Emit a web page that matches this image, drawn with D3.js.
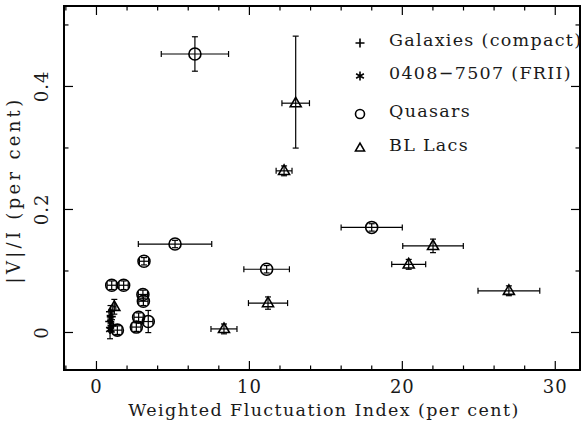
<!DOCTYPE html>
<html><head><meta charset="utf-8">
<script src="https://cdn.jsdelivr.net/npm/d3@7"></script>
<style>body{margin:0;background:#fff}svg{display:block}text{font-family:"DejaVu Serif",serif;fill:#1a1a1a}</style>
</head><body>
<script>
// Quasars
const qX    = [6.47, 5.17, 11.16, 18.03, 3.14, 1.03, 1.81, 3.07, 3.10, 2.79, 2.64, 3.42, 1.40];
const qY    = [0.452, 0.143, 0.102, 0.170, 0.115, 0.076, 0.076, 0.061, 0.050, 0.024, 0.008, 0.017, 0.003];
const qXerr = [2.2, 2.4, 1.49, 2.0, 0.3, 0.3, 0.3, 0.3, 0.3, 0.3, 0.3, 0.3, 0.3];
const qYlo  = [0.028, 0.006, 0.006, 0.006, 0.006, 0.007, 0.007, 0.007, 0.007, 0.007, 0.007, 0.018, 0.007];
const qYhi  = [0.028, 0.006, 0.006, 0.006, 0.006, 0.007, 0.007, 0.007, 0.007, 0.007, 0.007, 0.018, 0.007];
// BL Lacs
const bX    = [13.06, 12.30, 22.04, 20.45, 27.0, 11.25, 8.37, 1.20];
const bY    = [0.372, 0.262, 0.140, 0.110, 0.067, 0.047, 0.005, 0.041];
const bXerr = [0.9, 0.52, 1.98, 1.11, 2.02, 1.28, 0.85, 0.1];
const bYlo  = [0.073, 0.008, 0.011, 0.008, 0.008, 0.010, 0.008, 0.012];
const bYhi  = [0.109, 0.008, 0.011, 0.008, 0.008, 0.010, 0.008, 0.012];
// Galaxies (compact)
const gX    = [0.95, 1.0, 0.9, 1.05];
const gY    = [0.033, 0.025, 0.017, 0.010];
const gXerr = [0.1, 0.1, 0.1, 0.1];
const gYerr = [0.010, 0.010, 0.010, 0.010];
// 0408-7507 (FRII)
const fX = [0.92], fY = [0.004], fXerr = [0.1], fYerr = [0.015];

const legendLabels = ["Galaxies (compact)", "0408\u22127507 (FRII)", "Quasars", "BL Lacs"];
const xMajor = [0, 10, 20, 30];
const xMinor = [2, 4, 6, 8, 12, 14, 16, 18, 22, 24, 26, 28, -2, 32];
const yMajor = [0, 0.2, 0.4];
const yMinor = [0.1, 0.3, 0.5];

const W = 581, H = 426;
const L = 64, R = 580, T = 6, B = 370;
const svg = d3.select("body").append("svg").attr("width", W).attr("height", H);
const x = d3.scaleLinear().domain([-2.09, 31.65]).range([L, R]);
const y = d3.scaleLinear().domain([-0.0618, 0.530]).range([B, T]);

// axes ticks (inward, all four sides)
function axis(gen, tx, ty, vals, size, labels) {
  const g = svg.append("g").attr("transform", `translate(${tx},${ty})`)
    .call(gen.tickValues(vals).tickSize(size).tickSizeOuter(0).tickFormat(labels ? d3.format("") : ""));
  g.select(".domain").remove();
  g.selectAll("line").attr("stroke", "#000").attr("stroke-width", 1.2);
  return g;
}
const bx = axis(d3.axisBottom(x), 0, B, xMajor, -9, true);
bx.selectAll("text").attr("font-size", 18).attr("y", 10).attr("letter-spacing", 1).attr("fill", "#1a1a1a");
axis(d3.axisBottom(x), 0, B, xMinor.filter(v => x(v) > L && x(v) < R), -4.5, false);
axis(d3.axisTop(x), 0, T, xMajor, -9, false);
axis(d3.axisTop(x), 0, T, xMinor.filter(v => x(v) > L && x(v) < R), -4.5, false);
const ly = axis(d3.axisLeft(y), L, 0, yMajor, -9, true);
ly.selectAll("text").attr("font-size", 18).attr("x", 0).attr("dy", "0.35em").attr("fill", "#1a1a1a")
  .attr("letter-spacing", 1).attr("text-anchor", "middle").attr("transform", "translate(-22,0) rotate(-90)");
axis(d3.axisLeft(y), L, 0, yMinor, -4.5, false);
axis(d3.axisRight(y), R, 0, yMajor, -9, false);
axis(d3.axisRight(y), R, 0, yMinor, -4.5, false);
svg.selectAll("g text").filter(function(){return this.textContent==="";}).remove();

// frame
svg.append("rect").attr("x", L).attr("y", T).attr("width", R - L).attr("height", B - T)
  .attr("fill", "none").attr("stroke", "#000").attr("stroke-width", 2);

// axis titles
svg.append("text").attr("x", (L + R) / 2 + 2).attr("y", 416).attr("text-anchor", "middle")
  .attr("font-size", 17.5).attr("letter-spacing", 1.4).text("Weighted Fluctuation Index (per cent)");
svg.append("text").attr("transform", `translate(20,${190}) rotate(-90)`).attr("text-anchor", "middle")
  .attr("font-size", 18).attr("letter-spacing", 3.3).text("|V|/I (per cent)");

// error bars
const eb = svg.append("g").attr("stroke", "#000").attr("stroke-width", 1.2).attr("fill", "none");
function errbars(X, Y, Xe, Ylo, Yhi) {
  X.forEach((v, i) => {
    const cx = x(v), cy = y(Y[i]);
    const x0 = x(v - Xe[i]), x1 = x(v + Xe[i]);
    const y0 = y(Y[i] - Ylo[i]), y1 = y(Y[i] + Yhi[i]);
    eb.append("line").attr("x1", x0).attr("x2", x1).attr("y1", cy).attr("y2", cy);
    eb.append("line").attr("x1", cx).attr("x2", cx).attr("y1", y0).attr("y2", y1);
    const c = 3;
    [x0, x1].forEach(xx => eb.append("line").attr("x1", xx).attr("x2", xx).attr("y1", cy - c).attr("y2", cy + c));
    [y0, y1].forEach(yy => eb.append("line").attr("x1", cx - c).attr("x2", cx + c).attr("y1", yy).attr("y2", yy));
  });
}
errbars(qX, qY, qXerr, qYlo, qYhi);
errbars(bX, bY, bXerr, bYlo, bYhi);
errbars(gX, gY, gXerr, gYerr, gYerr);
errbars(fX, fY, fXerr, fYerr, fYerr);

// symbols
const sym = svg.append("g").attr("stroke", "#000").attr("fill", "none").attr("stroke-width", 1.6);
function circle(cx, cy, r) { sym.append("circle").attr("cx", cx).attr("cy", cy).attr("r", r); }
function tri(cx, cy, s) {
  const h = s * 0.866;
  sym.append("path").attr("d", `M${cx},${cy - h * 0.62}L${cx + s / 2},${cy + h * 0.38}L${cx - s / 2},${cy + h * 0.38}Z`);
}
function plus(cx, cy, s) {
  sym.append("path").attr("d", `M${cx - s / 2},${cy}H${cx + s / 2}M${cx},${cy - s / 2}V${cy + s / 2}`);
}
function star(cx, cy, s) {
  let d = "";
  for (let k = 0; k < 3; k++) {
    const a = Math.PI / 2 + k * Math.PI / 3;
    d += `M${cx - Math.cos(a) * s / 2},${cy - Math.sin(a) * s / 2}L${cx + Math.cos(a) * s / 2},${cy + Math.sin(a) * s / 2}`;
  }
  sym.append("path").attr("d", d);
}
qX.forEach((v, i) => circle(x(v), y(qY[i]), 6));
bX.forEach((v, i) => tri(x(v), y(bY[i]), 11));
gX.forEach((v, i) => plus(x(v), y(gY[i]), 9));
fX.forEach((v, i) => star(x(v), y(fY[i]), 9));

// legend
const legY = [40, 73, 111, 145];
const lg = svg.append("g");
legendLabels.forEach((t, i) => {
  lg.append("text").attr("x", 389).attr("y", legY[i]).attr("dy", "0.35em").attr("font-size", 17.5)
    .attr("letter-spacing", 1.3).text(t);
});
plus(360, legY[0] + 3, 9);
star(360, legY[1] + 3, 9);
circle(360, legY[2] + 3, 4.5);
tri(360, legY[3] + 3, 9);
</script>
</body></html>
